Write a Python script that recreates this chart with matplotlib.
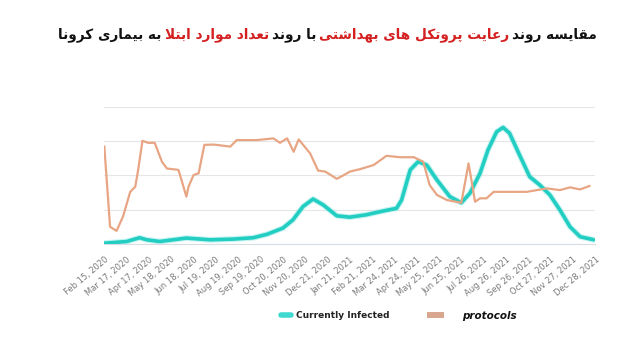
import pandas as pd
import matplotlib
matplotlib.use("Agg")
import matplotlib.pyplot as plt
from matplotlib.lines import Line2D
from matplotlib.patches import Patch

# tick labels along the date axis (every 31 days)
tick_labels = ["Feb 15, 2020", "Mar 17, 2020", "Apr 17, 2020", "May 18, 2020",
               "Jun 18, 2020", "Jul 19, 2020", "Aug 19, 2020", "Sep 19, 2020",
               "Oct 20, 2020", "Nov 20, 2020", "Dec 21, 2020", "Jan 21, 2021",
               "Feb 21, 2021", "Mar 24, 2021", "Apr 24, 2021", "May 25, 2021",
               "Jun 25, 2021", "Jul 26, 2021", "Aug 26, 2021", "Sep 26, 2021",
               "Oct 27, 2021", "Nov 27, 2021", "Dec 28, 2021"]

# "protocols" series (orange)
protocol_dates = ["2020-02-15", "2020-02-23", "2020-03-03", "2020-03-12", "2020-03-22",
                  "2020-03-29", "2020-04-02", "2020-04-08", "2020-04-16", "2020-04-25",
                  "2020-05-05", "2020-05-12", "2020-05-28", "2020-06-04", "2020-06-08",
                  "2020-06-11", "2020-06-18", "2020-06-25", "2020-07-03", "2020-07-16",
                  "2020-08-08", "2020-08-17", "2020-09-14", "2020-10-07", "2020-10-16",
                  "2020-10-26", "2020-11-04", "2020-11-11", "2020-11-27", "2020-12-08",
                  "2020-12-18", "2021-01-03", "2021-01-13", "2021-01-21", "2021-02-04",
                  "2021-02-23", "2021-03-13", "2021-04-01", "2021-04-20", "2021-05-03",
                  "2021-05-12", "2021-05-22", "2021-06-05", "2021-06-25", "2021-06-30",
                  "2021-07-05", "2021-07-09", "2021-07-14", "2021-07-21", "2021-07-30",
                  "2021-08-09", "2021-09-05", "2021-09-24", "2021-10-22", "2021-11-09",
                  "2021-11-23", "2021-12-07", "2021-12-20"]
protocol_values = [2.84, 0.5, 0.38, 0.8, 1.52, 1.67, 2.16, 3.01, 2.95, 2.95,
                   2.4, 2.2, 2.16, 1.67, 1.38, 1.67, 2.01, 2.06, 2.89, 2.9,
                   2.84, 3.03, 3.03, 3.08, 2.95, 3.08, 2.69, 3.05, 2.64, 2.14,
                   2.11, 1.9, 2.01, 2.11, 2.18, 2.3, 2.57, 2.53, 2.53, 2.4,
                   1.72, 1.43, 1.28, 1.2, 1.77, 2.35, 1.87, 1.23, 1.33, 1.33,
                   1.52, 1.52, 1.52, 1.62, 1.57, 1.65, 1.59, 1.69]

# "Currently Infected" series (cyan)
infected_dates = ["2020-02-15", "2020-03-17", "2020-04-04", "2020-04-14", "2020-05-02",
                  "2020-06-08", "2020-07-11", "2020-08-12", "2020-09-09", "2020-09-28",
                  "2020-10-20", "2020-11-03", "2020-11-17", "2020-12-01", "2020-12-15",
                  "2021-01-03", "2021-01-21", "2021-02-13", "2021-03-04", "2021-03-27",
                  "2021-04-03", "2021-04-15", "2021-04-26", "2021-05-08", "2021-05-22",
                  "2021-06-09", "2021-06-25", "2021-07-07", "2021-07-21", "2021-08-01",
                  "2021-08-13", "2021-08-22", "2021-08-31", "2021-09-14", "2021-09-28",
                  "2021-10-12", "2021-10-26", "2021-11-09", "2021-11-23", "2021-12-07",
                  "2021-12-26"]
infected_values = [0.02, 0.07, 0.18, 0.12, 0.07, 0.17, 0.12, 0.14, 0.18, 0.28,
                   0.46, 0.7, 1.09, 1.31, 1.14, 0.82, 0.78, 0.85, 0.94, 1.04,
                   1.28, 2.16, 2.4, 2.3, 1.87, 1.38, 1.2, 1.48, 2.06, 2.74,
                   3.27, 3.4, 3.23, 2.59, 1.96, 1.72, 1.43, 0.99, 0.5, 0.21,
                   0.12]

# title pieces in reading order, with colour
title_parts = [("مقایسه روند", "#111111"),
               ("رعایت پروتکل های بهداشتی", "#d42020"),
               ("با روند", "#111111"),
               ("تعداد موارد ابتلا", "#d42020"),
               ("به بیماری کرونا", "#111111")]

# Arabic/Persian presentation forms: isolated, final, initial, medial
FORMS = {
    "ا": ("\uFE8D", "\uFE8E", None, None),
    "ب": ("\uFE8F", "\uFE90", "\uFE91", "\uFE92"),
    "ت": ("\uFE95", "\uFE96", "\uFE97", "\uFE98"),
    "د": ("\uFEA9", "\uFEAA", None, None),
    "ر": ("\uFEAD", "\uFEAE", None, None),
    "س": ("\uFEB1", "\uFEB2", "\uFEB3", "\uFEB4"),
    "ش": ("\uFEB5", "\uFEB6", "\uFEB7", "\uFEB8"),
    "ع": ("\uFEC9", "\uFECA", "\uFECB", "\uFECC"),
    "ق": ("\uFED5", "\uFED6", "\uFED7", "\uFED8"),
    "ل": ("\uFEDD", "\uFEDE", "\uFEDF", "\uFEE0"),
    "م": ("\uFEE1", "\uFEE2", "\uFEE3", "\uFEE4"),
    "ن": ("\uFEE5", "\uFEE6", "\uFEE7", "\uFEE8"),
    "ه": ("\uFEE9", "\uFEEA", "\uFEEB", "\uFEEC"),
    "و": ("\uFEED", "\uFEEE", None, None),
    "پ": ("\uFB56", "\uFB57", "\uFB58", "\uFB59"),
    "ک": ("\uFB8E", "\uFB8F", "\uFB90", "\uFB91"),
    "ی": ("\uFBFC", "\uFBFD", "\uFBFE", "\uFBFF"),
}


def shape_fa(text):
    """Join Persian letters and return them in visual (left-to-right) order."""
    def dual(c):
        return c in FORMS and FORMS[c][2] is not None

    out = []
    i = 0
    while i < len(text):
        c = text[i]
        if c not in FORMS:
            out.append(c)
            i += 1
            continue
        prev_join = i > 0 and dual(text[i - 1])
        if c == "ل" and i + 1 < len(text) and text[i + 1] == "ا":
            out.append("\uFEFC" if prev_join else "\uFEFB")
            i += 2
            continue
        next_join = dual(c) and i + 1 < len(text) and text[i + 1] in FORMS
        iso, fin, ini, med = FORMS[c]
        if prev_join and next_join:
            out.append(med)
        elif prev_join:
            out.append(fin)
        elif next_join:
            out.append(ini)
        else:
            out.append(iso)
        i += 1
    return "".join(reversed(out))


fig = plt.figure(figsize=(6.4, 3.54), dpi=100)
ax = fig.add_axes([0.163, 0.311, 0.767, 0.392])

ax.plot(pd.to_datetime(infected_dates), infected_values, color="#5fe0d8",
        lw=4.2, alpha=0.35, solid_capstyle="round", zorder=2)
ax.plot(pd.to_datetime(infected_dates), infected_values, color="#22cdc2",
        lw=2.6, solid_capstyle="round", zorder=3)
ax.plot(pd.to_datetime(protocol_dates), protocol_values, color="#e8a583",
        lw=1.6, zorder=4)

ticks = pd.to_datetime(tick_labels, format="%b %d, %Y")
ax.set_xlim(ticks[0], ticks[-1])
ax.set_ylim(0, 4.05)
ax.set_yticks([0, 1, 2, 3, 4])
ax.set_yticklabels([])
ax.set_xticks(ticks)
ax.set_xticklabels(tick_labels, rotation=40, ha="right", rotation_mode="anchor",
                   fontsize=6, color="#7a7a7a")
ax.tick_params(axis="both", length=0)
ax.tick_params(axis="x", pad=8)
ax.grid(axis="y", color="#e6e6e6", lw=0.8)
for s in ["top", "left", "right"]:
    ax.spines[s].set_visible(False)
ax.spines["bottom"].set_color("#d8dde3")

# title drawn piece by piece from right to left
renderer = fig.canvas.get_renderer()
x_right = 597
gap = 3
for part, col in title_parts:
    t = fig.text(x_right / 640, 1 - 35 / 354, shape_fa(part), ha="right", va="center",
                 fontsize=9.8, fontweight="bold", color=col, family="DejaVu Sans")
    bb = t.get_window_extent(renderer)
    x_right = bb.x0 - gap

leg1 = fig.legend(handles=[Line2D([], [], color="#3fd9cf", lw=4, solid_capstyle="round")],
                  labels=["Currently Infected"], loc="center",
                  bbox_to_anchor=(335 / 640, 1 - 316 / 354), frameon=False,
                  handlelength=1.2, handletextpad=0.5, fontsize=6.5)
for t in leg1.get_texts():
    t.set_fontweight("bold")
    t.set_color("#222222")
leg2 = fig.legend(handles=[Patch(facecolor="#d9a690", edgecolor="none")],
                  labels=["protocols"], loc="center",
                  bbox_to_anchor=(472 / 640, 1 - 316 / 354), frameon=False,
                  handlelength=1.6, handleheight=0.5, handletextpad=1.8, fontsize=7.5)
for t in leg2.get_texts():
    t.set_fontweight("bold")
    t.set_fontstyle("italic")
    t.set_color("#111111")

fig.savefig("out.png", dpi=100, facecolor="white")
